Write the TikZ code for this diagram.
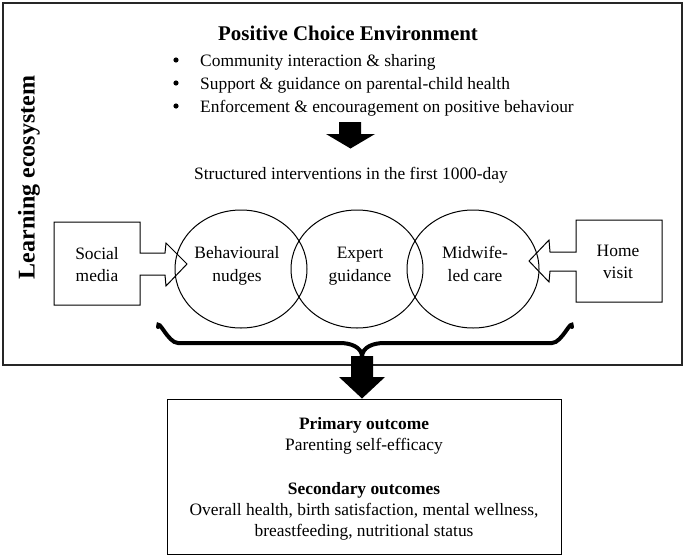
\documentclass[tikz,border=0pt]{standalone}
\usepackage{fontspec}
\setmainfont{Liberation Serif}
\usetikzlibrary{shapes.geometric}
\begin{document}
\begin{tikzpicture}[x=1pt,y=-1pt,
  txt/.style={font=\fontsize{17.4}{20}\selectfont, inner sep=0pt, anchor=base},
  btxt/.style={font=\fontsize{17.4}{20}\selectfont\bfseries, inner sep=0pt, anchor=base},
  ell/.style={ellipse, draw, line width=1pt, minimum width=132pt, minimum height=118pt, inner sep=0pt},
  boxline/.style={draw, line width=1pt},
  blk/.style={fill=black, draw=none}]
\useasboundingbox (0,0) rectangle (685,557);
% outer ecosystem box
\draw[line width=1.4pt, draw=black!85] (3,3) rectangle (682,365);
\node[font=\fontsize{24}{27}\selectfont\bfseries, rotate=90, inner sep=0pt] (eco) at (29,177.5) {Learning ecosystem};
% title and bullets
\node[font=\fontsize{20.9}{24}\selectfont\bfseries, inner sep=0pt, anchor=base] (title) at (348,40) {Positive Choice Environment};
\fill (176,60) circle (2.6);
\fill (176,83) circle (2.6);
\fill (176,106) circle (2.6);
\node[txt, anchor=base west] (b1) at (200,66) {Community interaction \& sharing};
\node[txt, anchor=base west] (b2) at (200,89) {Support \& guidance on parental-child health};
\node[txt, anchor=base west] (b3) at (200,112) {Enforcement \& encouragement on positive behaviour};
% first block arrow
\path[blk] (339,122) -- (361,122) -- (361,134) -- (375,134) -- (350.5,148.5) -- (326,134) -- (339,134) -- cycle;
\node[txt] (struct) at (351,179) {Structured interventions in the first 1000-day};
% ellipses
\node[ell] (c1) at (241,269) {};
\node[ell] (c2) at (357,269) {};
\node[ell] (c3) at (473,269) {};
\node[txt] (t1a) at (237,258) {Behavioural};
\node[txt] (t1b) at (237,281) {nudges};
\node[txt] (t2a) at (360,258) {Expert};
\node[txt] (t2b) at (360,281) {guidance};
\node[txt] (t3a) at (475,258) {Midwife-};
\node[txt] (t3b) at (475,281) {led care};
% social media box with arrow
\draw[line width=1pt, line join=miter] (54,222) -- (140,222) -- (140,253) -- (165,253) -- (166,243) -- (187,264) -- (166,286) -- (165,275) -- (140,275) -- (140,305) -- (54,305) -- cycle;
\node[txt] (s1) at (97,259) {Social};
\node[txt] (s2) at (97,281) {media};
% home visit box with arrow
\draw[line width=1pt, line join=miter] (662,220) -- (576,220) -- (576,252) -- (550,252) -- (549,240) -- (529,261) -- (549,282) -- (550,271) -- (576,271) -- (576,302) -- (662,302) -- cycle;
\node[txt] (h1) at (618,256) {Home};
\node[txt] (h2) at (618,278) {visit};
% brace
\coordinate (btip) at (362,357);
\draw[line width=4pt, line cap=round] (158,327) to[out=90,in=180] (178,343) -- (340,343) to[out=0,in=90] (btip);
\draw[line width=4pt, line cap=round] (572,327) to[out=90,in=0] (552,343) -- (384,343) to[out=180,in=90] (btip);
% second block arrow
\path[blk] (351,356) -- (373,356) -- (373,377) -- (385,377) -- (362,398.5) -- (339,377) -- (351,377) -- cycle;
% outcome box
\node[boxline, minimum width=394pt, minimum height=155pt, inner sep=0pt] (out) at (364,476.5) {};
\node[btxt] (o1) at (364,429) {Primary outcome};
\node[txt] (o2) at (364,450) {Parenting self-efficacy};
\node[btxt] (o3) at (364,494) {Secondary outcomes};
\node[txt] (o4) at (364,515) {Overall health, birth satisfaction, mental wellness,};
\node[txt] (o5) at (364,536) {breastfeeding, nutritional status};
\end{tikzpicture}
\end{document}
